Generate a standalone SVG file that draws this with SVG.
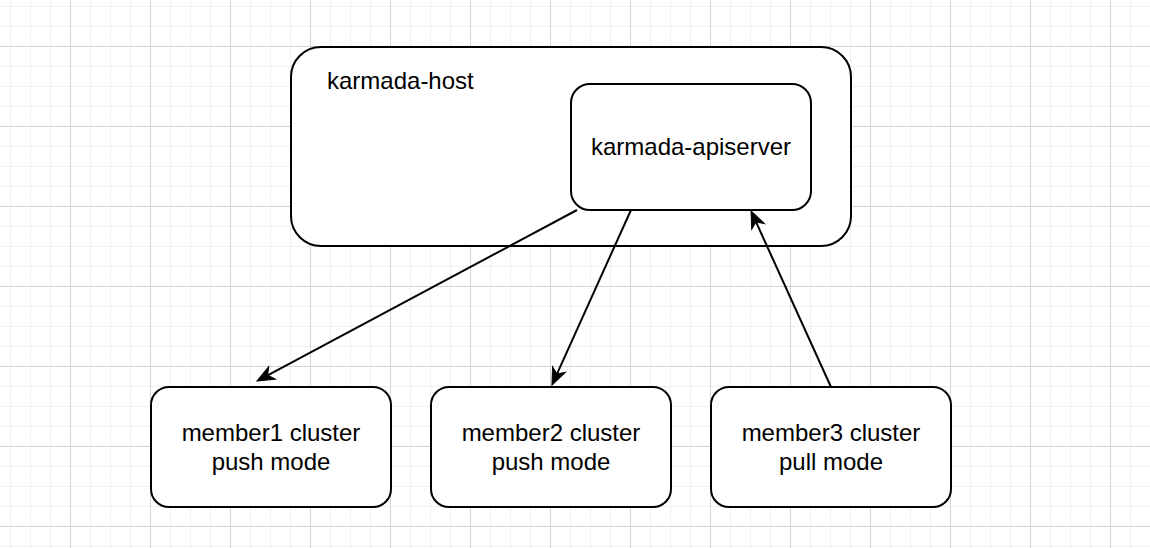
<svg xmlns="http://www.w3.org/2000/svg" width="1150" height="548" viewBox="0 0 1150 548">
  <defs>
    <pattern id="grid" patternUnits="userSpaceOnUse" x="70" y="46" width="80" height="80">
      <path d="M20.5,0V80M40.5,0V80M60.5,0V80M0,20.5H80M0,40.5H80M0,60.5H80" stroke="#f0f0f0" stroke-width="1" fill="none"/>
      <path d="M0.5,0V80M0,0.5H80" stroke="#d4d4d4" stroke-width="1" fill="none"/>
    </pattern>
    <marker id="arrow" markerUnits="userSpaceOnUse" markerWidth="40" markerHeight="40" viewBox="-20 -20 40 40" refX="0" refY="0" orient="auto" overflow="visible">
      <path d="M12,0 L-5,-7 L0,0 L-5,7 Z" fill="#000" stroke="#000" stroke-width="1" stroke-linejoin="miter"/>
    </marker>
    <style>
      .box { fill: #fff; stroke: #000; stroke-width: 2; }
      .lbl { font-family: "Liberation Sans", Arial, Helvetica, sans-serif; font-size: 24px; fill: #000; }
      .mid { text-anchor: middle; }
      .edge { stroke: #000; stroke-width: 2; fill: none; marker-end: url(#arrow); }
    </style>
  </defs>
  <rect x="0" y="0" width="1150" height="548" fill="#fff"/>
  <rect x="0" y="0" width="1150" height="548" fill="url(#grid)"/>

  <g id="karmada-host">
    <rect class="box" x="291" y="47" width="560" height="199" rx="30" ry="30"/>
    <text class="lbl" x="327" y="89">karmada-host</text>
  </g>
  <g id="karmada-apiserver">
    <rect class="box" x="571" y="84" width="240" height="126" rx="19" ry="19"/>
    <text class="lbl mid" x="691" y="155">karmada-apiserver</text>
  </g>
  <g id="member1">
    <rect class="box" x="151" y="387" width="240" height="120" rx="18" ry="18"/>
    <text class="lbl mid" x="271" y="441">member1 cluster</text>
    <text class="lbl mid" x="271" y="470">push mode</text>
  </g>
  <g id="member2">
    <rect class="box" x="431" y="387" width="240" height="120" rx="18" ry="18"/>
    <text class="lbl mid" x="551" y="441">member2 cluster</text>
    <text class="lbl mid" x="551" y="470">push mode</text>
  </g>
  <g id="member3">
    <rect class="box" x="711" y="387" width="240" height="120" rx="18" ry="18"/>
    <text class="lbl mid" x="831" y="441">member3 cluster</text>
    <text class="lbl mid" x="831" y="470">pull mode</text>
  </g>

  <g id="connectors">
    <line class="edge" x1="577" y1="210" x2="267.6" y2="375.3"/>
    <line class="edge" x1="631" y1="210" x2="556.9" y2="374.1"/>
    <line class="edge" x1="831" y1="387" x2="756" y2="221.9"/>
  </g>
</svg>
